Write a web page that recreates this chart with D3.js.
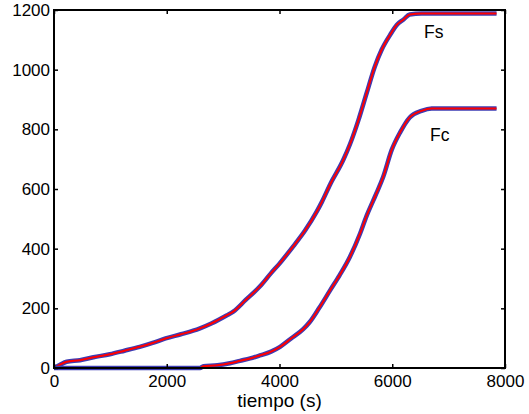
<!DOCTYPE html>
<html><head><meta charset="utf-8">
<script src="https://cdn.jsdelivr.net/npm/d3@7"></script>
<style>body{margin:0;background:#fff}svg{display:block}text{font-family:"Liberation Sans",Arial,sans-serif}</style>
</head><body><svg id="c" width="529" height="414"></svg>
<script>
const fsTime = [0,100,225,460,700,990,1250,1520,1750,1980,2250,2470,2590,2800,3060,3180,3400,3650,3850,4000,4240,4450,4660,4750,4900,5130,5250,5400,5545,5690,5810,5960,6080,6200,6310,6520,7850];
const fsVal  = [0,10,21,26,36,46,58,71,84,99,113,125,133,150,176,189,228,273,318,350,407,460,524,556,616,697,750,831,921,1010,1066,1116,1150,1168,1185,1188,1188];
const fcTime = [0,2590,2650,2900,3120,3300,3480,3650,3850,4010,4200,4420,4540,4700,4900,5070,5250,5430,5545,5660,5720,5840,5990,6140,6310,6520,6700,7850];
const fcVal  = [0,0,6,9,16,24,32,42,55,71,98,130,155,200,261,312,373,451,510,560,586,641,731,790,840,862,870,870];
const xTicks = [0,2000,4000,6000,8000];
const yTicks = [0,200,400,600,800,1000,1200];
const labels = [{text:"Fs", t:6563, v:1107},{text:"Fc", t:6670, v:761}];

const svg = d3.select("#c");
const L=54,R=505,T=10,B=368;
const x = d3.scaleLinear().domain([0,8000]).range([L,R]);
const y = d3.scaleLinear().domain([0,1200]).range([B,T]);

const line = d3.line().x(d=>x(d[0])).y(d=>y(d[1])).curve(d3.curveMonotoneX);
const series = [d3.zip(fsTime,fsVal), d3.zip(fcTime,fcVal)];
series.forEach(s=>{
  svg.append("path").attr("d",line(s)).attr("fill","none").attr("stroke","#3c3cb4").attr("stroke-width",4.5).attr("stroke-linejoin","round");
  svg.append("path").attr("d",line(s)).attr("fill","none").attr("stroke","#ff0000").attr("stroke-width",2).attr("stroke-linejoin","round");
});

const fs = "17px";
const fmt = d3.format("d");
const xa = svg.append("g").attr("transform",`translate(0,${B})`).call(d3.axisBottom(x).tickValues(xTicks).tickFormat(fmt).tickSizeInner(-4).tickSizeOuter(0).tickPadding(7));
const ya = svg.append("g").attr("transform",`translate(${L},0)`).call(d3.axisLeft(y).tickValues(yTicks).tickFormat(fmt).tickSizeInner(-4).tickSizeOuter(0).tickPadding(4));
const xt = svg.append("g").attr("transform",`translate(0,${T})`).call(d3.axisTop(x).tickValues(xTicks).tickSizeInner(-4).tickSizeOuter(0).tickFormat(""));
const yr = svg.append("g").attr("transform",`translate(${R},0)`).call(d3.axisRight(y).tickValues(yTicks).tickSizeInner(-4).tickSizeOuter(0).tickFormat(""));
[xa,ya,xt,yr].forEach(g=>{
  g.select(".domain").remove();
  g.selectAll("line").attr("stroke","#000").attr("stroke-width",1.5);
  g.selectAll("text").attr("font-size",fs).attr("fill","#000").style("font-family","'Liberation Sans',Arial,sans-serif");
});
svg.append("rect").attr("x",L).attr("y",T).attr("width",R-L).attr("height",B-T).attr("fill","none").attr("stroke","#000").attr("stroke-width",2);

svg.append("text").attr("x",(L+R)/2).attr("y",407).attr("text-anchor","middle").attr("font-size","19px").text("tiempo (s)");
labels.forEach(l=>svg.append("text").attr("x",x(l.t)).attr("y",y(l.v)).attr("font-size","17.5px").text(l.text));
</script></body></html>
